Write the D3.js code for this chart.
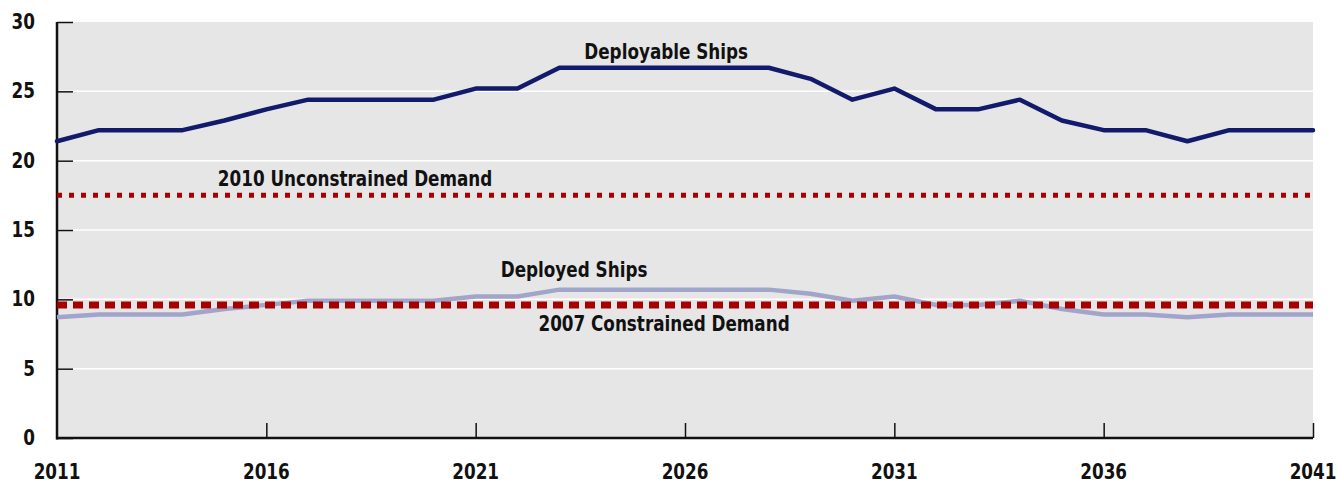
<!DOCTYPE html>
<html>
<head>
<meta charset="utf-8">
<script src="https://cdn.jsdelivr.net/npm/d3@7"></script>
<style>
  body { margin: 0; background: #fff; }
  text { font-family: "DejaVu Sans Condensed", "DejaVu Sans", sans-serif; font-stretch: condensed; font-weight: bold; fill: #111; }
</style>
</head>
<body>
<script>
// years and series
const years = d3.range(2011, 2042);
const deployable = [21.4, 22.2, 22.2, 22.2, 22.9, 23.7, 24.4, 24.4, 24.4, 24.4, 25.2, 25.2, 26.7, 26.7, 26.7, 26.7, 26.7, 26.7, 25.9, 24.4, 25.2, 23.7, 23.7, 24.4, 22.9, 22.2, 22.2, 21.4, 22.2, 22.2, 22.2];
const deployed = [8.7, 8.9, 8.9, 8.9, 9.3, 9.6, 9.9, 9.9, 9.9, 9.9, 10.2, 10.2, 10.7, 10.7, 10.7, 10.7, 10.7, 10.7, 10.4, 9.9, 10.2, 9.6, 9.6, 9.9, 9.3, 8.9, 8.9, 8.7, 8.9, 8.9, 8.9];
const unconstrained2010 = 17.5;
const constrained2007 = 9.6;
const yTicks = [0, 5, 10, 15, 20, 25, 30];
const xTicks = [2011, 2016, 2021, 2026, 2031, 2036, 2041];

function draw() {
  const W = 1338, H = 484;
  const m = { left: 57, right: 25, top: 22, bottom: 46 };
  const svg = d3.select("body").append("svg").attr("width", W).attr("height", H);

  const x = d3.scaleLinear().domain([2011, 2041]).range([m.left, W - m.right]);
  const y = d3.scaleLinear().domain([0, 30]).range([H - m.bottom, m.top]);

  // text squeezed a bit horizontally, the original face is narrow
  const sx = 0.89;
  function label(g, px, py, anchor, size, t) {
    g.append("text")
      .attr("transform", `translate(${px},${py}) scale(${sx},1)`)
      .attr("text-anchor", anchor)
      .attr("font-size", size)
      .text(t);
  }

  // plot background
  svg.append("rect")
    .attr("x", x(2011)).attr("y", y(30))
    .attr("width", x(2041) - x(2011)).attr("height", y(0) - y(30))
    .attr("fill", "#e6e6e6");

  // white grid lines
  svg.selectAll(".grid").data(yTicks.filter(d => d > 0 && d < 30)).enter()
    .append("line")
    .attr("x1", x(2011)).attr("x2", x(2041))
    .attr("y1", d => y(d)).attr("y2", d => y(d))
    .attr("stroke", "#fff").attr("stroke-width", 1.5);

  // y axis: ticks inside the plot
  const yAxis = svg.append("g").attr("transform", `translate(${x(2011)},0)`)
    .call(d3.axisRight(y).tickValues(yTicks).tickSize(16).tickFormat(""));
  yAxis.select(".domain").remove();
  yAxis.selectAll(".tick line").attr("stroke", "#111").attr("stroke-width", 1.5);

  yTicks.forEach(d => label(svg, 35, y(d) + 7, "end", 21, d));

  // x axis: ticks up into the plot
  const xAxis = svg.append("g").attr("transform", `translate(0,${y(0)})`)
    .call(d3.axisTop(x).tickValues(xTicks.slice(1)).tickSize(15).tickFormat(""));
  xAxis.select(".domain").remove();
  xAxis.selectAll(".tick line").attr("stroke", "#111").attr("stroke-width", 1.5);

  xTicks.forEach(d => label(svg, x(d), 479, "middle", 21, d));

  // axis lines
  svg.append("line").attr("x1", x(2011)).attr("x2", x(2011))
    .attr("y1", y(30)).attr("y2", y(0) + 1.5)
    .attr("stroke", "#111").attr("stroke-width", 2.5);
  svg.append("line").attr("x1", x(2011) - 1).attr("x2", x(2041))
    .attr("y1", y(0)).attr("y2", y(0))
    .attr("stroke", "#111").attr("stroke-width", 2.5);

  const line = d3.line().x((d, i) => x(years[i])).y(d => y(d));

  // demand lines
  svg.append("line")
    .attr("x1", x(2011)).attr("x2", x(2041))
    .attr("y1", y(unconstrained2010)).attr("y2", y(unconstrained2010))
    .attr("stroke", "#a80000").attr("stroke-width", 5)
    .attr("stroke-dasharray", "5,7");

  svg.append("path").datum(deployed)
    .attr("d", line).attr("fill", "none")
    .attr("stroke", "#a0a5c9").attr("stroke-width", 4.5);

  svg.append("line")
    .attr("x1", x(2011)).attr("x2", x(2041))
    .attr("y1", y(constrained2007)).attr("y2", y(constrained2007))
    .attr("stroke", "#a80000").attr("stroke-width", 7)
    .attr("stroke-dasharray", "10,6");

  svg.append("path").datum(deployable)
    .attr("d", line).attr("fill", "none")
    .attr("stroke", "#121a6c").attr("stroke-width", 4.5)
    .attr("stroke-linecap", "round").attr("stroke-linejoin", "round");

  // series labels
  const labels = [
    { t: "Deployable Ships", x: 2025.55, v: 27.3 },
    { t: "2010 Unconstrained Demand", x: 2018.12, v: 18.2 },
    { t: "Deployed Ships", x: 2023.35, v: 11.6 },
    { t: "2007 Constrained Demand", x: 2025.5, v: 7.7 }
  ];
  labels.forEach(d => label(svg, x(d.x), y(d.v), "middle", 21, d.t));
}

document.addEventListener("DOMContentLoaded", draw);
</script>
</body>
</html>
